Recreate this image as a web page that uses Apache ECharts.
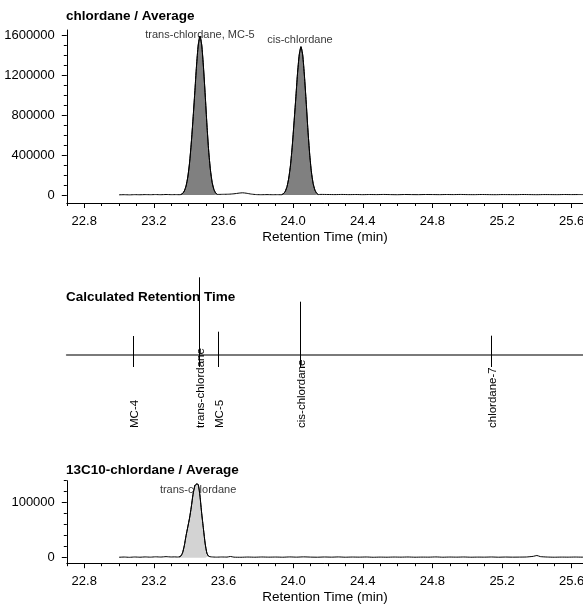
<!DOCTYPE html>
<html>
<head>
<meta charset="utf-8">
<script src="https://cdn.jsdelivr.net/npm/echarts@6/dist/echarts.min.js"></script>
<style>html,body{margin:0;padding:0;background:#fff}#c{width:583px;height:605px}</style>
</head>
<body>
<div id="c"></div>
<script>
// ---------- data ----------
const xMajorTicks = [22.8, 23.2, 23.6, 24.0, 24.4, 24.8, 25.2, 25.6];
const xMinorTicks = [22.7, 22.9, 23.0, 23.1, 23.3, 23.4, 23.5, 23.7, 23.8, 23.9, 24.1, 24.2, 24.3, 24.5, 24.6, 24.7, 24.9, 25.0, 25.1, 25.3, 25.4, 25.5];
const topYMajor = [0, 400000, 800000, 1200000, 1600000];
const topYMinor = [100000, 200000, 300000, 500000, 600000, 700000, 900000, 1000000, 1100000, 1300000, 1400000, 1500000];
const botYMajor = [0, 100000];
const botYMinor = [20000, 40000, 60000, 80000, 120000, 140000];

// top chromatogram (chlordane / Average)
const topBaselineA = [[23.00,2000],[23.03,3000],[23.06,1500],[23.09,3500],[23.12,2500],[23.15,4000],[23.18,3000],[23.21,4500],[23.24,3000],[23.27,5000],[23.30,3500],[23.33,4000],[23.345,3000]];
const transPeakTop = [[23.355,5000],[23.365,15000],[23.375,40000],[23.385,90000],[23.395,180000],[23.405,320000],[23.415,520000],[23.425,760000],[23.435,1020000],[23.445,1290000],[23.455,1500000],[23.465,1590000],[23.475,1500000],[23.485,1280000],[23.495,1000000],[23.505,700000],[23.515,440000],[23.525,250000],[23.535,125000],[23.545,55000],[23.555,20000],[23.565,6000]];
const topBaselineB = [[23.575,6000],[23.60,7000],[23.63,8000],[23.66,12000],[23.69,19000],[23.71,22000],[23.73,18000],[23.76,9000],[23.79,4000],[23.82,3000],[23.85,4000],[23.88,3000],[23.91,3500],[23.925,3000]];
const cisPeakTop = [[23.935,4000],[23.945,14000],[23.955,37000],[23.965,85000],[23.975,170000],[23.985,300000],[23.995,490000],[24.005,720000],[24.015,960000],[24.025,1210000],[24.035,1400000],[24.045,1483000],[24.055,1400000],[24.065,1190000],[24.075,930000],[24.085,650000],[24.095,410000],[24.105,230000],[24.115,115000],[24.125,50000],[24.135,18000],[24.145,5000]];
const topBaselineC = [[24.16,6000],[24.20,5000],[24.24,4000],[24.28,5500],[24.32,4000],[24.36,5000],[24.40,3500],[24.44,5000],[24.48,4000],[24.52,5500],[24.56,4000],[24.60,3000],[24.64,5000],[24.68,4000],[24.72,3500],[24.76,5000],[24.80,4500],[24.84,3500],[24.88,5000],[24.92,4000],[24.96,5500],[25.00,4000],[25.04,3500],[25.08,5000],[25.12,4000],[25.16,3000],[25.20,4500],[25.24,4000],[25.28,3500],[25.32,5000],[25.36,4000],[25.40,3000],[25.44,4500],[25.48,4000],[25.52,3500],[25.56,5000],[25.60,4000],[25.64,4500],[25.68,4000]];
const topPeakNames = ['trans-chlordane, MC-5', 'cis-chlordane'];
const topPeakApex = [[23.465, 1590000], [24.045, 1483000]];

// calculated retention time markers
const rtNames = ['MC-4', 'trans-chlordane', 'MC-5', 'cis-chlordane', 'chlordane-7'];
const rtTimes = [23.08, 23.458, 23.567, 24.04, 25.134];
const rtHeights = [18.3, 77, 22.6, 52.6, 18.6];

// bottom chromatogram (13C10-chlordane / Average)
const botBaselineA = [[23.00,800],[23.03,1200],[23.06,700],[23.09,1300],[23.12,900],[23.15,1400],[23.18,1000],[23.21,1600],[23.24,1200],[23.27,1900],[23.30,1300],[23.32,1500],[23.335,1200]];
const transPeakBot = [[23.345,1500],[23.355,3000],[23.365,9000],[23.375,22000],[23.385,40000],[23.395,56000],[23.405,72000],[23.415,92000],[23.425,115000],[23.435,130000],[23.445,134000],[23.455,133000],[23.465,112000],[23.475,80000],[23.485,52000],[23.495,25000],[23.505,8000],[23.515,2500]];
const botBaselineB = [[23.53,1500],[23.56,1000],[23.59,1300],[23.62,1100],[23.64,2200],[23.66,1000],[23.70,800],[23.74,1200],[23.78,900],[23.82,1300],[23.86,1000],[23.90,1200],[23.94,900],[23.98,1400],[24.02,1000],[24.06,1500],[24.10,1100],[24.14,900],[24.18,1300],[24.22,1000],[24.26,1400],[24.30,900],[24.34,1200],[24.38,1000],[24.42,1300],[24.46,800],[24.50,1100],[24.54,900],[24.58,1200],[24.62,1000],[24.66,1300],[24.70,900],[24.74,1100],[24.78,1000],[24.82,1400],[24.86,900],[24.90,1200],[24.94,1000],[24.98,1300],[25.02,900],[25.06,1100],[25.10,1000],[25.14,1300],[25.18,900],[25.22,1200],[25.26,1000],[25.30,1100],[25.34,1300],[25.38,2500],[25.40,4000],[25.42,2000],[25.46,1200],[25.50,900],[25.54,1100],[25.58,1000],[25.62,1200],[25.66,1000],[25.68,1100]];
const botPeakNames = ['trans-chlordane'];
const botPeakApex = [[23.445, 134000]];

// ---------- layout / style ----------
const FONT = 'Liberation Sans, Arial, sans-serif';
const X_MIN = 22.7, X_MAX = 25.665;
const LEFT = 66.8;

function majorX(grid, showName) {
  return {
    type: 'value', gridIndex: grid, min: X_MIN, max: X_MAX, position: 'bottom',
    axisLine: {show: true, onZero: false, lineStyle: {color: '#000', width: 1}},
    axisTick: {show: true, length: 5, lineStyle: {color: '#000'}, customValues: xMajorTicks},
    axisLabel: {show: true, customValues: xMajorTicks, formatter: v => v.toFixed(1), color: '#000', fontSize: 13, fontFamily: FONT, margin: 12},
    splitLine: {show: false},
    name: showName ? 'Retention Time (min)' : '', nameLocation: 'middle', nameGap: 27,
    nameTextStyle: {color: '#000', fontSize: 13.5, fontFamily: FONT}
  };
}
function minorX(grid) {
  return {
    type: 'value', gridIndex: grid, min: X_MIN, max: X_MAX, position: 'bottom',
    axisLine: {show: false, onZero: false},
    axisTick: {show: true, length: 3, lineStyle: {color: '#000'}, customValues: xMinorTicks},
    axisLabel: {show: false}, splitLine: {show: false}
  };
}
function majorY(grid, min, max, ticks) {
  return {
    type: 'value', gridIndex: grid, min: min, max: max, position: 'left',
    axisLine: {show: true, onZero: false, lineStyle: {color: '#000', width: 1}},
    axisTick: {show: true, length: 5, lineStyle: {color: '#000'}, customValues: ticks},
    axisLabel: {show: true, customValues: ticks, formatter: v => String(v), color: '#000', fontSize: 13, fontFamily: FONT, margin: 12},
    splitLine: {show: false}
  };
}
function minorY(grid, min, max, ticks) {
  return {
    type: 'value', gridIndex: grid, min: min, max: max, position: 'left',
    axisLine: {show: false, onZero: false},
    axisTick: {show: true, length: 3, lineStyle: {color: '#000'}, customValues: ticks},
    axisLabel: {show: false}, splitLine: {show: false}
  };
}
function peakArea(data, xi, yi, fill) {
  return {type: 'line', xAxisIndex: xi, yAxisIndex: yi, data: data, symbol: 'none', smooth: 0.2,
    lineStyle: {color: '#000', width: 1}, areaStyle: {color: fill, opacity: 1, origin: 0}, z: 2, silent: true};
}
function trace(data, xi, yi) {
  return {type: 'line', xAxisIndex: xi, yAxisIndex: yi, data: data, symbol: 'none', smooth: 0.2,
    lineStyle: {color: '#000', width: 1}, z: 3, silent: true};
}
function peakLabels(names, apex, xi, yi, offsets) {
  return {type: 'scatter', xAxisIndex: xi, yAxisIndex: yi, symbolSize: 0, z: 1, silent: true,
    data: apex.map((p, i) => ({value: p, label: {show: true, formatter: names[i], position: 'inside', offset: offsets[i],
      color: '#000', fontSize: 11, fontFamily: FONT}}))};
}

const topTrace = [].concat(topBaselineA, transPeakTop, topBaselineB, cisPeakTop, topBaselineC);
const botTrace = [].concat(botBaselineA, transPeakBot, botBaselineB);

const titleStyle = {fontSize: 13.5, fontWeight: 'bold', color: '#000', fontFamily: FONT};
const gridBase = {left: LEFT, right: 0, containLabel: false, outerBoundsMode: 'none'};
const option = {
  animation: false,
  backgroundColor: '#fff',
  title: [
    {text: 'chlordane / Average', left: 66, top: 9, padding: 0, textStyle: titleStyle},
    {text: 'Calculated Retention Time', left: 66, top: 290, padding: 0, textStyle: titleStyle},
    {text: '13C10-chlordane / Average', left: 66, top: 463, padding: 0, textStyle: titleStyle}
  ],
  grid: [
    Object.assign({}, gridBase, {top: 30, height: 173}),
    Object.assign({}, gridBase, {top: 267.3, height: 100}),
    Object.assign({}, gridBase, {top: 480.7, height: 82.5})
  ],
  xAxis: [
    majorX(0, true), minorX(0),
    {type: 'value', gridIndex: 1, min: X_MIN, max: X_MAX,
      axisLine: {show: true, onZero: true, lineStyle: {color: '#7a7a7a', width: 2}},
      axisTick: {show: false}, axisLabel: {show: false}, splitLine: {show: false}},
    majorX(2, true), minorX(2)
  ],
  yAxis: [
    majorY(0, -80000, 1650000, topYMajor), minorY(0, -80000, 1650000, topYMinor),
    {type: 'value', gridIndex: 1, min: -13, max: 87, show: false, splitLine: {show: false}},
    majorY(2, -10000, 140000, botYMajor), minorY(2, -10000, 140000, botYMinor)
  ],
  series: [
    peakLabels(topPeakNames, topPeakApex, 0, 0, [[0, -1], [-1, -6.7]]),
    peakArea(transPeakTop, 0, 0, '#808080'),
    peakArea(cisPeakTop, 0, 0, '#808080'),
    trace(topTrace, 0, 0),
    {
      type: 'custom', xAxisIndex: 2, yAxisIndex: 2, silent: true,
      data: rtTimes.map((t, i) => [t, rtHeights[i]]),
      renderItem: function (params, api) {
        const t = api.value(0), h = api.value(1);
        const p0 = api.coord([t, -12.7]);
        const p1 = api.coord([t, h]);
        const x = Math.round(p0[0]) + 0.5;
        return {type: 'group', children: [
          {type: 'line', shape: {x1: x, y1: p0[1], x2: x, y2: p1[1]}, style: {stroke: '#000', lineWidth: 1}},
          {type: 'text', x: x + 1, y: p0[1] + 61, rotation: Math.PI / 2,
            style: {text: rtNames[params.dataIndex], fill: '#000', font: '11.5px ' + FONT, align: 'left', verticalAlign: 'middle'}}
        ]};
      }
    },
    peakLabels(botPeakNames, botPeakApex, 3, 3, [[1.6, 6]]),
    peakArea(transPeakBot, 3, 3, '#d3d3d3'),
    trace(botTrace, 3, 3)
  ]
};
const chart = echarts.init(document.getElementById('c'), null, {renderer: 'canvas'});
chart.setOption(option);
</script>
</body>
</html>
